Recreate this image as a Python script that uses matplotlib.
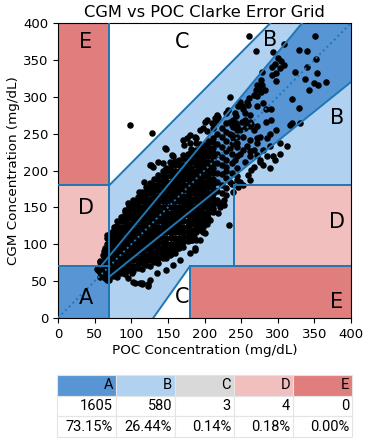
import matplotlib
matplotlib.use('Agg')
import matplotlib.pyplot as plt
import numpy as np

# ---------------------------------------------------------------------------
# data
# ---------------------------------------------------------------------------
# dense core of the cloud, one column of CGM readings per POC value
core_cols = [
    (58, [56, 63, 70, 77]),
    (63, [56, 63, 70, 77, 84, 91]),
    (69, [52, 59, 66, 73, 80, 87, 94, 101, 106]),
    (75, [57, 64, 71, 78, 85, 92, 99, 106, 113, 118]),
    (80, [55, 62, 69, 76, 83, 90, 97, 104, 111, 118, 125]),
    (86, [61, 68, 75, 82, 89, 96, 103, 110, 117, 124, 131, 137]),
    (92, [60, 67, 74, 81, 88, 95, 102, 109, 116, 123, 130, 137, 144]),
    (97, [65, 72, 79, 86, 93, 100, 107, 114, 121, 128, 135, 142, 149, 152]),
    (103, [64, 71, 78, 85, 92, 99, 106, 113, 120, 127, 134, 141, 148, 155, 158]),
    (109, [68, 75, 82, 89, 96, 103, 110, 117, 124, 131, 138, 145, 152, 159, 164]),
    (114, [67, 74, 81, 88, 95, 102, 109, 116, 123, 130, 137, 144, 151, 158, 165, 171]),
    (120, [72, 79, 86, 93, 100, 107, 114, 121, 128, 135, 142, 149, 156, 163, 170, 177]),
    (126, [71, 78, 85, 92, 99, 106, 113, 120, 127, 134, 141, 148, 155, 162, 169, 176, 183]),
    (131, [76, 83, 90, 97, 104, 111, 118, 125, 132, 139, 146, 153, 160, 167, 174, 181, 188]),
    (137, [75, 82, 89, 96, 103, 110, 117, 124, 131, 138, 145, 152, 159, 166, 173, 180, 187, 194]),
    (143, [81, 88, 95, 102, 109, 116, 123, 130, 137, 144, 151, 158, 165, 172, 179, 186, 193, 200]),
    (148, [81, 88, 95, 102, 109, 116, 123, 130, 137, 144, 151, 158, 165, 172, 179, 186, 193, 200, 204]),
    (154, [87, 94, 101, 108, 115, 122, 129, 136, 143, 150, 157, 164, 171, 178, 185, 192, 199, 206]),
    (160, [88, 95, 102, 109, 116, 123, 130, 137, 144, 151, 158, 165, 172, 179, 186, 193, 200, 207, 213]),
    (165, [95, 102, 109, 116, 123, 130, 137, 144, 151, 158, 165, 172, 179, 186, 193, 200, 207, 214]),
    (171, [96, 103, 110, 117, 124, 131, 138, 145, 152, 159, 166, 173, 180, 187, 194, 201, 208, 215, 221]),
    (177, [104, 111, 118, 125, 132, 139, 146, 153, 160, 167, 174, 181, 188, 195, 202, 209, 216, 223]),
    (182, [106, 113, 120, 127, 134, 141, 148, 155, 162, 169, 176, 183, 190, 197, 204, 211, 218, 225, 229]),
    (188, [116, 123, 130, 137, 144, 151, 158, 165, 172, 179, 186, 193, 200, 207, 214, 221, 228]),
    (194, [119, 126, 133, 140, 147, 154, 161, 168, 175, 182, 189, 196, 203, 210, 217, 224, 231, 236]),
    (199, [129, 136, 143, 150, 157, 164, 171, 178, 185, 192, 199, 206, 213, 220, 227, 234]),
    (205, [135, 142, 149, 156, 163, 170, 177, 184, 191, 198, 205, 212, 219, 226, 233, 240]),
    (211, [147, 154, 161, 168, 175, 182, 189, 196, 203, 210, 217, 224, 231, 238, 244]),
    (217, [160, 172, 185, 197, 210, 222, 236, 250]),
    (224, [170, 180, 195, 208, 218, 232, 245, 258]),
    (230, [176, 190, 200, 214, 226, 240, 252]),
    (237, [182, 196, 210, 222, 236, 248, 262]),
    (244, [192, 204, 220, 232, 246, 260]),
]

# scattered readings outside the core, (POC, CGM)
sparse_pts = [
    (261, 382), (270, 362), (294, 361), (309, 371), (351, 383), (329, 364), (340, 362), (352, 351),
    (301, 352), (305, 349), (308, 343), (296, 345), (303, 339), (292, 341), (298, 332), (292, 330),
    (278, 333), (277, 323), (278, 316), (275, 311), (297, 321), (324, 333), (340, 341), (353, 332),
    (337, 324), (349, 319), (355, 316), (366, 320), (342, 309),
    (271, 316), (270, 309), (277, 307), (283, 309), (272, 301), (267, 302),
    (235, 299), (320, 297), (329, 285),
    (261, 298), (258, 293), (248, 293), (251, 287), (260, 289), (253, 284),
    (280, 292), (284, 284), (291, 283),
    (232, 282), (230, 278), (219, 273), (214, 271), (217, 268), (203, 268),
    (243, 274), (239, 268), (243, 264), (251, 266), (255, 269), (262, 266), (264, 263),
    (291, 269), (284, 266), (319, 265), (330, 264), (317, 262),
    (255, 257), (262, 260), (248, 255), (239, 259),
    (271, 287), (246, 287), (255, 278), (262, 275), (242, 278), (235, 266), (230, 264),
    (258, 262), (271, 260), (267, 255), (244, 255), (235, 250), (239, 244), (253, 246),
    (262, 241), (271, 244), (244, 237), (258, 233), (235, 230), (248, 223), (262, 226),
    (271, 221), (242, 214), (255, 212), (267, 205), (230, 205),
    (296, 214), (289, 203), (280, 207), (276, 212), (264, 201), (260, 194), (262, 187),
    (248, 185), (246, 178), (239, 171), (230, 167), (226, 160), (221, 151),
    (298, 255), (289, 250), (285, 244), (276, 246), (271, 237), (253, 228), (267, 228),
    (280, 228), (289, 233), (303, 237), (312, 233), (303, 223), (294, 219), (285, 219),
    (276, 214), (262, 219),
    (98, 262), (128, 251), (147, 229), (137, 211), (127, 207), (157, 220), (153, 212),
    (217, 275), (213, 264), (201, 266), (198, 257), (203, 253), (189, 244), (180, 248),
    (176, 244), (180, 237), (172, 235), (210, 264), (212, 257), (194, 255), (187, 246),
    (171, 242), (189, 237), (146, 230), (155, 221), (144, 210), (130, 205),
    (126, 208), (117, 185), (121, 174), (110, 171), (112, 165), (103, 160), (101, 151),
    (96, 156), (92, 146), (87, 137), (80, 131), (76, 124), (73, 115), (69, 110), (67, 101),
    (64, 95), (62, 85), (57, 76), (53, 67), (67, 70), (64, 63),
    (67, 113), (67, 108), (69, 104), (73, 97), (78, 124),
    (233, 126), (226, 153), (223, 156), (219, 142), (212, 144), (208, 133), (203, 128),
    (194, 124), (198, 117), (187, 119), (185, 110), (183, 106), (189, 106), (187, 92),
    (167, 101), (162, 95), (157, 92), (153, 90), (148, 85), (144, 85),
    (212, 149), (217, 156), (235, 185), (253, 180), (244, 187),
    (57, 63), (62, 67), (67, 61), (64, 54), (69, 79), (92, 63), (101, 61), (96, 54),
    (105, 47), (114, 48), (123, 46), (135, 85), (139, 88), (153, 85), (55, 65), (62, 61),
    (67, 52), (103, 49), (112, 47), (114, 46), (123, 44), (126, 52), (135, 61), (148, 65),
    (157, 72), (167, 79), (180, 88), (187, 95), (194, 106), (201, 115), (198, 124), (203, 137),
]

zones = ['A', 'B', 'C', 'D', 'E']
zone_counts = [1605, 580, 3, 4, 0]
zone_pcts = [73.15, 26.44, 0.14, 0.18, 0.00]
zone_colors = ['#5895d4', '#b1d1f0', '#d9d9d9', '#f2bfbf', '#e07d7d']
line_color = '#1f77b4'

poc = []
cgm = []
for x, ys in core_cols:
    poc += [x] * len(ys)
    cgm += ys
poc += [p[0] for p in sparse_pts]
cgm += [p[1] for p in sparse_pts]

# ---------------------------------------------------------------------------
# figure
# ---------------------------------------------------------------------------
fig = plt.figure(figsize=(3.66, 4.40), dpi=100)
ax = fig.add_axes([58 / 366, 1 - 318 / 440, 293 / 366, 295 / 440])
ax.set_xlim(0, 400)
ax.set_ylim(0, 400)

col = dict(zip(zones, zone_colors))
ax.add_patch(plt.Rectangle((0, 0), 400, 400, color=col['B'], lw=0, zorder=0))
# zone A
ax.add_patch(plt.Polygon([(0, 0), (70, 0), (70, 56), (400, 320), (400, 400),
                          (400 / 1.2, 400), (70 / 1.2, 70), (0, 70)],
                         closed=True, color=col['A'], lw=0, zorder=0.5))
# zone C
ax.add_patch(plt.Polygon([(70, 180), (70, 400), (290, 400)], color='white', lw=0, zorder=0.5))
ax.add_patch(plt.Polygon([(130, 0), (180, 70), (180, 0)], color='white', lw=0, zorder=0.5))
# zone D
ax.add_patch(plt.Rectangle((0, 70), 70, 110, color=col['D'], lw=0, zorder=0.5))
ax.add_patch(plt.Rectangle((240, 70), 160, 110, color=col['D'], lw=0, zorder=0.5))
# zone E
ax.add_patch(plt.Rectangle((0, 180), 70, 220, color=col['E'], lw=0, zorder=0.5))
ax.add_patch(plt.Rectangle((180, 0), 220, 70, color=col['E'], lw=0, zorder=0.5))

ax.scatter(poc, cgm, s=22, color='black', lw=0, zorder=2)

# zone borders
lw = 1.4
segs = [
    ([0, 400], [0, 400], ':'),
    ([70, 70], [0, 400], '-'),
    ([0, 70], [70, 70], '-'),
    ([0, 70], [180, 180], '-'),
    ([70 / 1.2, 400 / 1.2], [70, 400], '-'),
    ([70, 400], [56, 320], '-'),
    ([70, 290], [180, 400], '-'),
    ([130, 180], [0, 70], '-'),
    ([180, 180], [0, 70], '-'),
    ([180, 400], [70, 70], '-'),
    ([240, 240], [70, 180], '-'),
    ([240, 400], [180, 180], '-'),
]
for xs, ys, ls in segs:
    ax.plot(xs, ys, ls=ls, color=line_color, lw=lw, zorder=3)

labels = [('A', 38, 27), ('B', 290, 377), ('B', 381, 271), ('C', 169, 374), ('C', 169, 28),
          ('D', 38, 149), ('D', 381, 130), ('E', 38, 374), ('E', 380, 22)]
for t, x, y in labels:
    ax.text(x, y, t, fontsize=15, ha='center', va='center', zorder=4)

ax.set_xticks(range(0, 401, 50))
ax.set_yticks(range(0, 401, 50))
ax.tick_params(labelsize=9.5, length=3.5, width=0.8)
ax.set_xlabel('POC Concentration (mg/dL)', fontsize=9.7, labelpad=2)
ax.set_ylabel('CGM Concentration (mg/dL)', fontsize=9.7, labelpad=2)
ax.set_title('CGM vs POC Clarke Error Grid', fontsize=11.7, pad=4)
for sp in ax.spines.values():
    sp.set_linewidth(0.8)

# ---------------------------------------------------------------------------
# summary table
# ---------------------------------------------------------------------------
tax = fig.add_axes([57 / 366, 1 - 437 / 440, 295 / 366, 62 / 440])
tax.axis('off')
cells = [[str(c) for c in zone_counts], [f'{p:.2f}%' for p in zone_pcts]]
tbl = tax.table(cellText=cells, colLabels=zones, colColours=zone_colors,
                cellLoc='right', colLoc='right', bbox=[0, 0, 1, 1])
tbl.auto_set_font_size(False)
for (r, c), cell in tbl.get_celld().items():
    cell.set_edgecolor('#e4e4e4')
    cell.set_linewidth(0.8)
    cell.PAD = 0.05
    cell.get_text().set_fontsize(10.5)
    cell.get_text().set_fontfamily('Roboto')

fig.savefig('out.png', dpi=100, facecolor='white')
